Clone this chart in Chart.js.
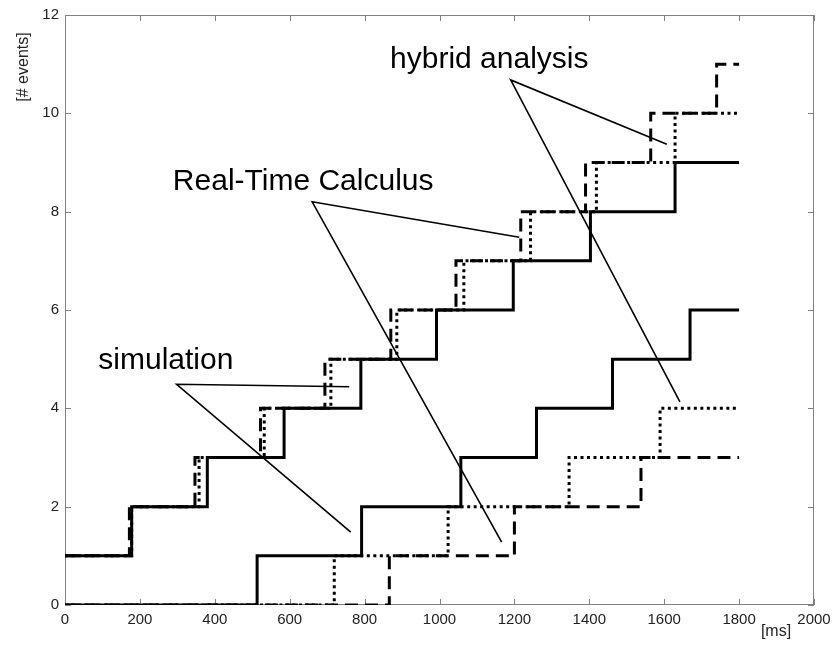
<!DOCTYPE html>
<html>
<head>
<meta charset="utf-8">
<script src="https://cdn.jsdelivr.net/npm/chart.js@4/dist/chart.umd.min.js"></script>
<style>
  html, body { margin: 0; padding: 0; background: #fff; }
  #eventsChart { display: block; }
</style>
</head>
<body>
<canvas id="eventsChart" width="833" height="645"></canvas>
<script>
// event arrival times [ms] and cumulative counts, upper curves
const upperSolidT  = [0, 178, 380, 585, 790, 992, 1197, 1403, 1629, 1800];
const upperSolidN  = [1, 2, 3, 4, 5, 6, 7, 8, 9, 9];
const upperDashedT = [0, 172, 347, 522, 694, 870, 1044, 1217, 1390, 1564, 1740, 1800];
const upperDashedN = [1, 2, 3, 4, 5, 6, 7, 8, 9, 10, 11, 11];
const upperDottedT = [0, 178, 358, 532, 710, 886, 1065, 1243, 1419, 1629, 1800];
const upperDottedN = [1, 2, 3, 4, 5, 6, 7, 8, 9, 10, 10];

// lower curves
const lowerSolidT  = [0, 513, 792, 1057, 1259, 1462, 1669, 1800];
const lowerSolidN  = [0, 1, 2, 3, 4, 5, 6, 6];
const lowerDashedT = [0, 866, 1200, 1538, 1800];
const lowerDashedN = [0, 1, 2, 3, 3];
const lowerDottedT = [0, 719, 1023, 1346, 1589, 1800];
const lowerDottedN = [0, 1, 2, 3, 4, 4];

// callout labels and their pointer lines (end, apex, end)
const calloutText = ['simulation', 'Real-Time Calculus', 'hybrid analysis'];
const calloutAt   = [[89, 4.81], [288, 8.45], [868, 10.92]];
const calloutX    = [[759, 298, 763], [1213, 660, 1166], [1607, 1190, 1642]];
const calloutY    = [[4.44, 4.49, 1.48], [7.48, 8.20, 1.28], [9.37, 10.68, 4.13]];

const xTicks = [0, 200, 400, 600, 800, 1000, 1200, 1400, 1600, 1800, 2000];
const yTicks = [0, 2, 4, 6, 8, 10, 12];

const FONT = "'Liberation Sans', Arial, Helvetica, sans-serif";

function pts(xs, ys) {
  return xs.map((x, i) => ({ x: x, y: ys[i] }));
}

// count holds until the next arrival, then jumps
function stepLine(xs, ys, dash) {
  return {
    data: pts(xs, ys),
    borderColor: '#000',
    borderWidth: 3,
    borderDash: dash,
    borderCapStyle: 'butt',
    stepped: 'before',
    pointRadius: 0,
    fill: false
  };
}

const DASHED = [13, 7];
const DOTTED = [3, 3.5];

const datasets = [
  stepLine(lowerDottedT, lowerDottedN, DOTTED),
  stepLine(lowerDashedT, lowerDashedN, DASHED),
  stepLine(lowerSolidT, lowerSolidN, []),
  stepLine(upperDottedT, upperDottedN, DOTTED),
  stepLine(upperDashedT, upperDashedN, DASHED),
  stepLine(upperSolidT, upperSolidN, [])
];

calloutX.forEach(function(xs, i) {
  datasets.push({
    data: pts(xs, calloutY[i]),
    borderColor: '#000',
    borderWidth: 1.6,
    pointRadius: 0,
    fill: false
  });
});

// box with inward ticks, axis units and callout texts
const framePlugin = {
  id: 'frame',
  beforeDatasetsDraw(chart) {
    const { ctx, chartArea: a, scales: { x, y } } = chart;
    const tl = 6;
    ctx.save();
    ctx.strokeStyle = '#808080';
    ctx.lineWidth = 1;
    ctx.strokeRect(a.left + 0.5, a.top + 0.5, a.right - a.left - 1, a.bottom - a.top - 1);
    ctx.beginPath();
    xTicks.forEach(function(v) {
      const px = Math.round(x.getPixelForValue(v)) + 0.5;
      ctx.moveTo(px, a.bottom); ctx.lineTo(px, a.bottom - tl);
      ctx.moveTo(px, a.top); ctx.lineTo(px, a.top + tl);
    });
    yTicks.forEach(function(v) {
      const py = Math.round(y.getPixelForValue(v)) + 0.5;
      ctx.moveTo(a.left, py); ctx.lineTo(a.left + tl, py);
      ctx.moveTo(a.right, py); ctx.lineTo(a.right - tl, py);
    });
    ctx.stroke();
    ctx.restore();
  },
  afterDatasetsDraw(chart) {
    const { ctx, scales: { x, y } } = chart;
    ctx.save();
    ctx.fillStyle = '#000';
    ctx.font = '30px ' + FONT;
    ctx.textAlign = 'left';
    ctx.textBaseline = 'alphabetic';
    calloutText.forEach(function(t, i) {
      ctx.fillText(t, x.getPixelForValue(calloutAt[i][0]), y.getPixelForValue(calloutAt[i][1]));
    });

    ctx.fillStyle = '#222';
    ctx.font = '16px ' + FONT;
    ctx.textAlign = 'center';
    ctx.textBaseline = 'middle';
    ctx.fillText('[ms]', 776, 632);

    ctx.translate(24, 67);
    ctx.rotate(-Math.PI / 2);
    ctx.fillText('[# events]', 0, 0);
    ctx.restore();
  }
};

new Chart(document.getElementById('eventsChart'), {
  type: 'line',
  data: { datasets: datasets },
  options: {
    responsive: false,
    animation: false,
    layout: { padding: { top: 15, right: 19, left: 0, bottom: 0 } },
    plugins: { legend: { display: false }, tooltip: { enabled: false } },
    scales: {
      x: {
        type: 'linear',
        min: 0,
        max: 2000,
        afterBuildTicks: function(s) { s.ticks = xTicks.map(v => ({ value: v })); },
        afterFit: function(s) { s.height = 40; s.paddingLeft = 0; s.paddingRight = 0; },
        grid: { display: false, drawTicks: false },
        border: { display: false },
        ticks: {
          color: '#222', font: { family: FONT, size: 15 }, padding: 6, maxRotation: 0,
          callback: function(v) { return String(v); }
        }
      },
      y: {
        type: 'linear',
        min: 0,
        max: 12,
        afterBuildTicks: function(s) { s.ticks = yTicks.map(v => ({ value: v })); },
        afterFit: function(s) { s.width = 65; s.paddingTop = 0; s.paddingBottom = 0; },
        grid: { display: false, drawTicks: false },
        border: { display: false },
        ticks: {
          color: '#222', font: { family: FONT, size: 15 }, padding: 6,
          callback: function(v) { return String(v); }
        }
      }
    }
  },
  plugins: [framePlugin]
});
</script>
</body>
</html>
